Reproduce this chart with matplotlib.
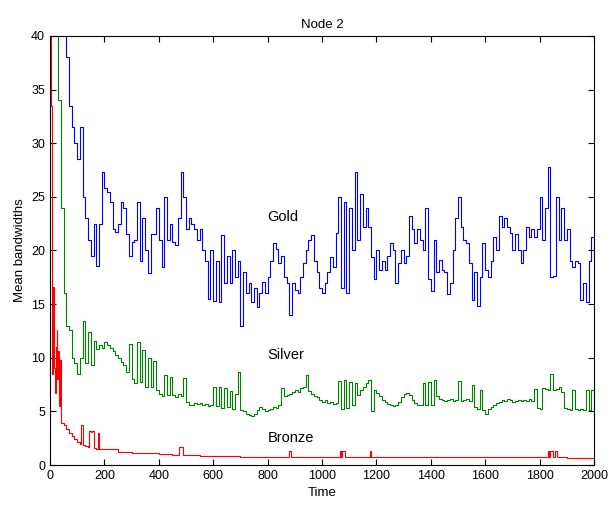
import numpy as np
import matplotlib
matplotlib.use('Agg')
import matplotlib.pyplot as plt

plt.rcParams['font.family'] = ['Liberation Sans', 'DejaVu Sans']

# time axis shared by gold and silver (step 10)
time = np.arange(0, 2001, 10)

gold = [90, 80, 70, 60, 52, 45, 38, 33.5, 31.5, 30,
        28.5, 31.5, 25, 23, 21, 19.5, 22.5, 18.6, 22.5, 27.3,
        25.8, 25.5, 24.5, 22, 21.7, 22.5, 24.5, 24, 21.5, 19.5,
        20.8, 21, 24.5, 19, 23, 20, 17.9, 21.5, 21.5, 24,
        21, 18.5, 25, 21, 22.5, 20.8, 20.5, 23, 27.3, 25,
        22, 23, 22.5, 22, 21, 22, 20, 19, 15.5, 20,
        15.3, 19, 15.2, 21.4, 17, 19.5, 17, 20, 17.5, 19,
        13, 18, 16, 17, 15.2, 16.5, 14.7, 16, 17.1, 16,
        17.5, 19, 20.7, 20.1, 18.8, 19.5, 17.5, 17, 14, 17,
        16.3, 16, 17.5, 18.8, 20, 21, 21.4, 19, 18, 16.5,
        16, 17, 18, 19.4, 18.5, 21.6, 25, 16.5, 24.5, 16,
        24, 20, 27.3, 21, 25.3, 22.2, 24, 22.2, 19.4, 17.3,
        20, 18.2, 19, 18.2, 19.5, 20.7, 20, 17, 18.8, 20,
        18.8, 19.5, 23.2, 22, 20.7, 22, 21, 20, 24, 17.3,
        16.2, 21, 18, 19.1, 18.2, 18, 15.9, 17, 20, 23,
        25, 22.2, 21, 20.7, 18.8, 15.4, 18, 14.8, 17.5, 20.7,
        18.2, 17.5, 19, 21.3, 20, 23.2, 22.2, 23, 22.2, 21.6,
        20, 21.5, 20, 18.8, 20, 22.2, 21.3, 22, 21.3, 22,
        25, 21, 24, 27.8, 17.5, 17.6, 25, 21, 24, 21,
        22, 19, 18.5, 19, 18.8, 15.4, 17, 15.2, 19, 21.3,
        19]

silver = [80, 60, 42, 34, 24, 16, 13, 12.6, 10, 9.5,
          8.5, 10, 13.4, 9.5, 12.4, 9.3, 11.6, 10.8, 11.2, 10.9,
          11.5, 11.2, 10.9, 10.6, 10.3, 10, 9.6, 9.3, 8.7, 11.3,
          8, 7.6, 11.5, 7.7, 10.7, 7.3, 10, 7.3, 9.7, 7,
          6.6, 6.4, 8.4, 6.5, 8.2, 6.5, 6.3, 6.6, 6.4, 8.1,
          5.9, 5.6, 5.6, 5.8, 5.7, 5.8, 5.6, 5.7, 5.5, 5.6,
          7.3, 5.5, 7.3, 5.3, 7.2, 5.4, 6.9, 5.2, 6.6, 8.7,
          5.1, 5, 4.8, 4.7, 4.6, 4.8, 5.1, 5.4, 5.2, 5,
          5.1, 5.2, 5.4, 5.3, 5.6, 7.2, 6.4, 6.5, 6.6, 6.8,
          7, 6.8, 7.2, 7.3, 8.4, 6.9, 6.6, 6.4, 6.3, 6.1,
          5.9, 6.1, 5.8, 5.9, 5.7, 5.8, 7.8, 5.2, 7.9, 5.3,
          7.7, 5.6, 7.6, 6.5, 7, 7.3, 7.6, 7.9, 5, 7,
          6.7, 6.4, 6.1, 5.9, 5.7, 5.6, 5.5, 5.6, 5.9, 6.3,
          6.6, 6.7, 6.5, 6.1, 5.8, 5.6, 5.6, 7.6, 5.6, 7.7,
          5.6, 7.9, 6.4, 6.2, 6.1, 6, 6.1, 6.2, 6, 6.1,
          7.8, 6, 6.1, 6.2, 6, 7.5, 5.4, 5.2, 7, 5.1,
          4.8, 5.2, 5.4, 5.6, 5.8, 5.9, 6.1, 6, 6.2, 6.1,
          5.9, 6, 6.1, 6, 6.1, 6, 6.2, 6, 7.1, 5.3,
          5.2, 7.2, 7.1, 7, 8.5, 7, 7.1, 7.3, 6.8, 5.3,
          5.2, 5.1, 7, 5.2, 5.1, 5.2, 5.1, 7, 5.1, 7,
          5]

bronze_time = [0, 3, 6, 9, 12, 15, 18, 21, 24, 27, 30, 33, 36, 39, 42,
               50, 60, 70, 80, 90, 100, 110, 115, 120, 130, 140, 145, 150,
               155, 160, 170, 175, 180, 200, 250, 300, 350, 400, 450, 475,
               480, 485, 490, 550, 600, 700, 800, 880, 885, 900, 1000, 1065,
               1070, 1075, 1080, 1085, 1175, 1180, 1300, 1400, 1500, 1600,
               1650, 1700, 1830, 1835, 1840, 1845, 1850, 1855, 1860, 1865,
               1900, 2000]
bronze = [40, 33.5, 20, 8.5, 16.6, 9, 6.7, 11, 12.6, 8, 10.6, 5.5, 9.8, 5, 3.9,
          3.7, 3.4, 3.0, 2.7, 2.4, 2.1, 2.0, 3.7, 1.9, 1.8, 1.7, 3.2, 3.1,
          3.2, 1.6, 1.5, 3.0, 1.5, 1.45, 1.25, 1.15, 1.1, 1.0, 0.95, 1.7,
          1.7, 1.7, 0.9, 0.85, 0.8, 0.75, 0.75, 1.3, 0.75, 0.75, 0.72, 1.3,
          0.7, 1.3, 1.3, 0.7, 1.3, 0.7, 0.72, 0.75, 0.72, 0.78,
          0.75, 0.72, 1.3, 0.7, 1.3, 1.3, 0.7, 1.3, 1.3, 0.7,
          0.68, 0.68]

labels = ['Gold', 'Silver', 'Bronze']
label_pos = [(800, 23.1), (800, 10.3), (800, 2.5)]

fig = plt.figure(figsize=(6.08, 5.08), dpi=100)
ax = fig.add_axes([50 / 608, 43 / 508, 544 / 608, 429 / 508])

ax.plot(time, gold, color=(0, 0, 1), lw=0.8, drawstyle='steps-post')
ax.plot(time, silver, color=(0, 0.5, 0), lw=0.8, drawstyle='steps-post')
ax.plot(bronze_time, bronze, color=(1, 0, 0), lw=0.8, drawstyle='steps-post')

for name, (x, y) in zip(labels, label_pos):
    ax.text(x, y, name, fontsize=10.5, ha='left', va='center')

ax.set_xlim(0, 2000)
ax.set_ylim(0, 40)
ax.set_xticks(np.arange(0, 2001, 200))
ax.set_yticks(np.arange(0, 41, 5))
ax.tick_params(direction='in', top=True, right=True, labelsize=9, length=4)
for s in ax.spines.values():
    s.set_linewidth(0.8)

ax.set_xlabel('Time', fontsize=9.5)
ax.set_ylabel('Mean bandwidths', fontsize=9.5)
ax.set_title('Node 2', fontsize=9.5)

fig.savefig('out.png', dpi=100)
